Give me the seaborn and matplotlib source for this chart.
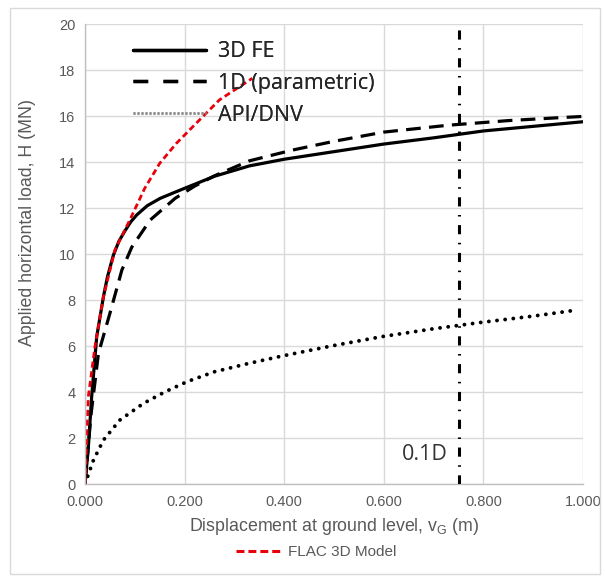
import matplotlib
matplotlib.use("Agg")
import matplotlib.pyplot as plt
from matplotlib.lines import Line2D
from matplotlib.patches import Rectangle
import seaborn as sns
import pandas as pd

# Load-displacement curves: displacement at ground level (m) vs applied load (MN)
fe3d_x = [0.0, 0.0067, 0.0134, 0.0235, 0.037, 0.045, 0.057, 0.068, 0.080, 0.092,
          0.104, 0.125, 0.151, 0.180, 0.205, 0.260, 0.330, 0.400, 0.500, 0.600,
          0.700, 0.800, 0.900, 1.000]
fe3d_y = [0.0, 1.6, 3.8, 6.4, 8.14, 9.0, 9.95, 10.55, 11.0, 11.4,
          11.7, 12.1, 12.42, 12.68, 12.9, 13.38, 13.83, 14.12, 14.45, 14.78,
          15.05, 15.35, 15.55, 15.75]

param1d_x = [0.0, 0.012, 0.027, 0.050, 0.074, 0.094, 0.131, 0.181, 0.220, 0.260,
             0.330, 0.417, 0.500, 0.600, 0.730, 0.850, 0.963, 1.000]
param1d_y = [0.0, 3.0, 5.68, 7.42, 9.3, 10.3, 11.48, 12.42, 12.95, 13.4,
             14.05, 14.52, 14.9, 15.3, 15.6, 15.8, 15.94, 15.98]

api_x = [0.0, 0.017, 0.037, 0.070, 0.117, 0.160, 0.205, 0.260, 0.330, 0.397,
         0.497, 0.597, 0.700, 0.797, 0.900, 0.990]
api_y = [0.0, 1.04, 1.91, 2.78, 3.5, 4.0, 4.45, 4.88, 5.25, 5.57,
         6.01, 6.41, 6.75, 7.03, 7.3, 7.57]

flac_x = [0.0, 0.0067, 0.020, 0.037, 0.060, 0.090, 0.120, 0.150, 0.183, 0.230,
          0.270, 0.336]
flac_y = [0.0, 3.8, 5.97, 8.14, 10.17, 11.48, 12.86, 13.94, 14.8, 15.83,
          16.7, 17.64]

limit_x = 0.75  # 0.1D displacement criterion
limit_label = "0.1D"

x_ticks = [0.0, 0.2, 0.4, 0.6, 0.8, 1.0]
y_ticks = [0, 2, 4, 6, 8, 10, 12, 14, 16, 18, 20]

sns.set_style("white")
plt.rcParams["font.family"] = ["Liberation Sans", "DejaVu Sans"]

fig = plt.figure(figsize=(6.05, 5.8), dpi=100)
ax = fig.add_axes([85 / 605, 1 - 484 / 580, 498 / 605, 460 / 580])

grey_txt = "#595959"
grid_c = "#d9d9d9"
red = "#e8000b"

df_fe = pd.DataFrame({"x": fe3d_x, "y": fe3d_y})
df_1d = pd.DataFrame({"x": param1d_x, "y": param1d_y})
df_api = pd.DataFrame({"x": api_x, "y": api_y})
df_flac = pd.DataFrame({"x": flac_x, "y": flac_y})

sns.lineplot(data=df_api, x="x", y="y", ax=ax, color="black", lw=2.8,
             linestyle=(0, (0.01, 2.1)), dash_capstyle="round", sort=False,
             estimator=None)
sns.lineplot(data=df_1d, x="x", y="y", ax=ax, color="black", lw=2.3,
             linestyle=(0, (4.6, 2.6)), sort=False, estimator=None)
sns.lineplot(data=df_fe, x="x", y="y", ax=ax, color="black", lw=2.3,
             sort=False, estimator=None)
sns.lineplot(data=df_flac, x="x", y="y", ax=ax, color=red, lw=2.0,
             linestyle=(0, (2.2, 1.3)), sort=False, estimator=None)

ax.axvline(limit_x, color="black", lw=2.2,
           linestyle=(0, (3.0, 2.8, 0.5, 2.8)), zorder=3)
ax.text(limit_x - 0.022, 1.3, limit_label, ha="right", va="center",
        fontsize=15.5, color="#333333", family=["Open Sans", "DejaVu Sans"])

ax.set_xlim(0, 1.0)
ax.set_ylim(0, 20)
ax.set_xticks(x_ticks)
ax.set_xticklabels([f"{v:.3f}" for v in x_ticks])
ax.set_yticks(y_ticks)
ax.grid(True, color=grid_c, lw=1.0)
ax.set_axisbelow(True)
for s in ["top", "right"]:
    ax.spines[s].set_visible(False)
for s in ["left", "bottom"]:
    ax.spines[s].set_color("#bfbfbf")
    ax.spines[s].set_linewidth(1.0)
ax.tick_params(axis="both", which="major", length=4, width=1.0,
               color="#bfbfbf", labelcolor=grey_txt, labelsize=10.5, pad=3)
ax.tick_params(axis="x", pad=4)

ax.set_xlabel("Displacement at ground level, v$_\\mathregular{G}$ (m)",
              fontsize=12.8, color=grey_txt, labelpad=5)
ax.set_ylabel("Applied horizontal load, H (MN)", fontsize=12.8,
              color=grey_txt, labelpad=8)
ax.yaxis.set_label_coords(-0.098, (484 - 222) / 460)

handles = [
    Line2D([], [], color="black", lw=2.4),
    Line2D([], [], color="black", lw=2.4, linestyle=(0, (4.4, 4.6))),
    Line2D([], [], color="#8c8c8c", lw=1.8, linestyle=(0, (0.8, 0.8))),
]
leg = ax.legend(handles, ["3D FE", "1D (parametric)", "API/DNV"],
                loc="upper left", bbox_to_anchor=(0.061, 1.0), frameon=False,
                handlelength=3.4, handletextpad=0.55, labelspacing=0.5,
                borderpad=0.3,
                prop={"family": ["Open Sans", "DejaVu Sans"], "size": 15.5})
for t in leg.get_texts():
    t.set_color("#262626")
ax.add_artist(leg)

flac_handle = [Line2D([], [], color=red, lw=2.2, linestyle=(0, (2.6, 1.3)))]
fig.legend(flac_handle, ["FLAC 3D Model"], loc="center",
           bbox_to_anchor=(316 / 605, 1 - 552 / 580), frameon=False,
           handlelength=3.1, handletextpad=0.3,
           prop={"size": 11}, labelcolor=grey_txt)

fig.patches.append(Rectangle((10 / 605, 6 / 580), 590 / 605, 566 / 580,
                             transform=fig.transFigure, fill=False,
                             edgecolor="#d9d9d9", lw=1.0))

fig.savefig("out.png", dpi=100)
